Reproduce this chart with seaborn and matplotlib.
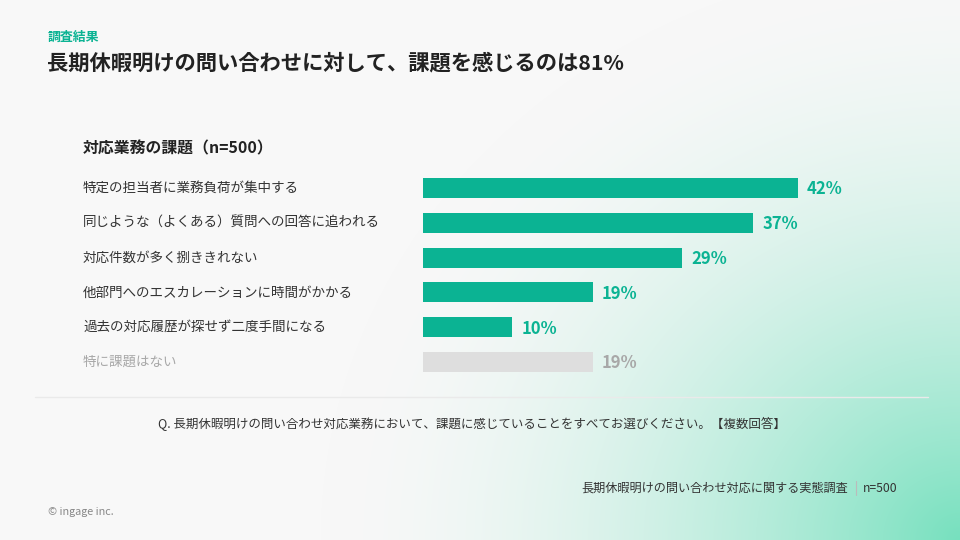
import numpy as np
import pandas as pd
import matplotlib
matplotlib.use("Agg")
import matplotlib.pyplot as plt
import matplotlib.transforms as mtransforms
from matplotlib.lines import Line2D
import seaborn as sns

# ---- data ----
categories = [
    "特定の担当者に業務負荷が集中する",
    "同じような（よくある）質問への回答に追われる",
    "対応件数が多く捌ききれない",
    "他部門へのエスカレーションに時間がかかる",
    "過去の対応履歴が探せず二度手間になる",
    "特に課題はない",
]
values = [42, 37, 29, 19, 10, 19]
value_labels = ["42%", "37%", "29%", "19%", "10%", "19%"]
kicker = "調査結果"
title = "長期休暇明けの問い合わせに対して、課題を感じるのは81%"
chart_header = "対応業務の課題（n=500）"
question = "Q. 長期休暇明けの問い合わせ対応業務において、課題に感じていることをすべてお選びください。【複数回答】"
source_text = "長期休暇明けの問い合わせ対応に関する実態調査"
source_n = "n=500"
copyright_text = "© ingage inc."

# ---- style ----
TEAL = "#0bb393"
GRAY_BAR = "#dedede"
GRAY_TXT = "#a8a8a8"
DARK = "#333333"
bar_colors = [TEAL, TEAL, TEAL, TEAL, TEAL, GRAY_BAR]
label_colors = [TEAL, TEAL, TEAL, TEAL, TEAL, GRAY_TXT]
cat_colors = [DARK, DARK, DARK, DARK, DARK, GRAY_TXT]

sns.set_theme(style="white")
FONT = ["Noto Sans CJK JP", "DejaVu Sans"]
plt.rcParams["font.family"] = FONT

W, H = 960, 540
fig = plt.figure(figsize=(9.6, 5.4), dpi=100)
fig.patch.set_facecolor("#f8f8f8")

# ---- background gradient (mint toward bottom-right) ----
bg = fig.add_axes([0, 0, 1, 1], zorder=-10)
yy, xx = np.mgrid[0:H, 0:W]
d = np.sqrt(((W - xx) * 1.0) ** 2 + ((H - yy) * 1.1) ** 2)
t = np.clip(1 - d / 640.0, 0, 1) ** 1.8
base = np.array([248, 248, 248]) / 255.0
mint = np.array([118, 224, 190]) / 255.0
img = base[None, None, :] * (1 - t[..., None]) + mint[None, None, :] * t[..., None]
bg.imshow(img, extent=[0, W, H, 0], aspect="auto")
bg.set_xlim(0, W)
bg.set_ylim(H, 0)
bg.axis("off")

# ---- bar axes ----
px_per_unit = 8.93
x0_px = 423
xmax = 50
ax_w = xmax * px_per_unit
slot = 34.8
top_px = 188 - slot / 2
ax_h = slot * len(categories)
ax = fig.add_axes([x0_px / W, (H - top_px - ax_h) / H, ax_w / W, ax_h / H])
ax.patch.set_alpha(0)

df = pd.DataFrame({"cat": categories, "val": values})
sns.barplot(data=df, x="val", y="cat", hue="cat", palette=bar_colors,
            order=categories, hue_order=categories, legend=False,
            width=0.575, saturation=1, linewidth=0, ax=ax)
ax.set_xlim(0, xmax)
ax.set_ylim(len(categories) - 0.5, -0.5)
ax.axis("off")

for i, (v, lab) in enumerate(zip(values, value_labels)):
    ax.annotate(lab, xy=(v, i), xytext=(6.5, -1), textcoords="offset points",
                ha="left", va="center", fontsize=12, fontweight="bold",
                color=label_colors[i], family=FONT)

# category labels: figure x, data y
trans = mtransforms.blended_transform_factory(fig.transFigure, ax.transData)
for i, c in enumerate(categories):
    ax.text(83 / W, i, c, transform=trans, ha="left", va="center",
            fontsize=9.75, color=cat_colors[i], family=FONT, clip_on=False)

# ---- texts ----
def ftext(x, y, s, **kw):
    fig.text(x / W, 1 - y / H, s, **kw)

ftext(48, 37, kicker, fontsize=9.3, fontweight="bold", color=TEAL, va="center", ha="left")
ftext(47, 63, title, fontsize=15.35, fontweight="bold", color="#222222", va="center", ha="left")
ftext(83, 148, chart_header, fontsize=11.4, fontweight="bold", color="#222222", va="center", ha="left")

fig.add_artist(Line2D([35 / W, 928 / W], [1 - 397 / H, 1 - 397 / H],
                      transform=fig.transFigure, color="#eaeaea", lw=1))

ftext(472, 424, question, fontsize=9.0, color=DARK, va="center", ha="center")
ftext(848, 488, source_text, fontsize=8.75, color=DARK, va="center", ha="right")
fig.add_artist(Line2D([856 / W, 856 / W], [1 - 481 / H, 1 - 495 / H],
                      transform=fig.transFigure, color="#bbbbbb", lw=0.8))
ftext(897, 488, source_n, fontsize=8.75, color=DARK, va="center", ha="right")
ftext(48, 512, copyright_text, fontsize=7.8, color="#888888", va="center", ha="left")

fig.savefig("out.png", dpi=100, facecolor=fig.get_facecolor())
